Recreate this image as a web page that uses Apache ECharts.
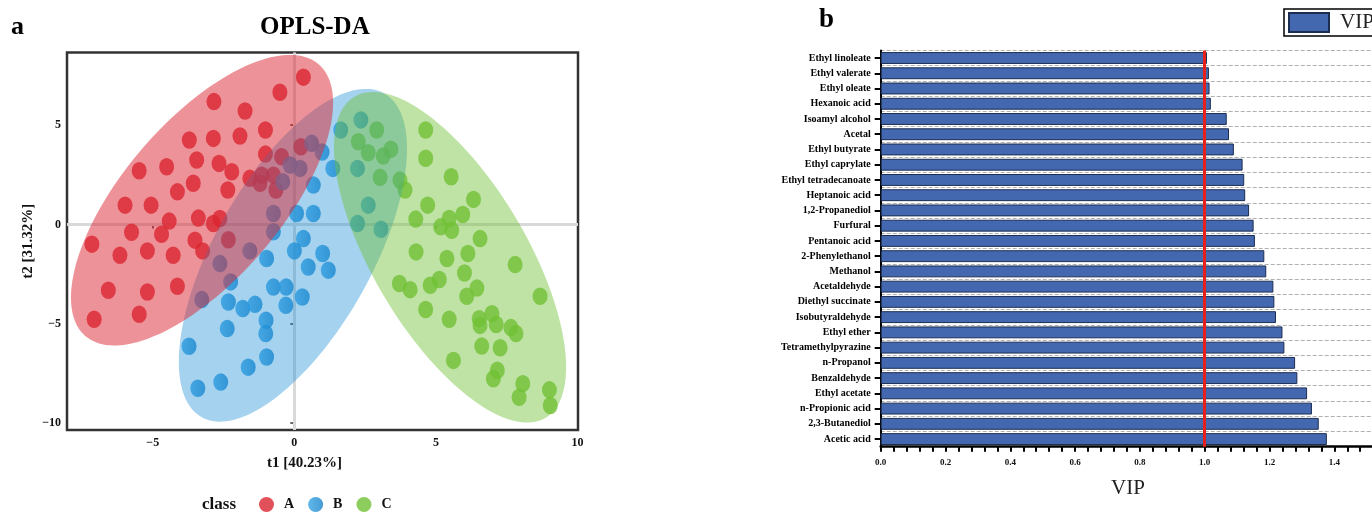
<!DOCTYPE html>
<html><head><meta charset="utf-8">
<script src="https://cdn.jsdelivr.net/npm/echarts@6/dist/echarts.min.js"></script>
<style>html,body{margin:0;padding:0;background:#fff;overflow:hidden}#wrap{width:1372px;height:513px;overflow:hidden;position:relative}#c{width:1400px;height:513px}</style>
</head><body><div id="wrap"><div id="c"></div></div>
<script>
// ---------- Panel a: OPLS-DA score plot ----------
const classA_t1 = [0.32,-0.51,-2.84,-1.74,-1.02,-3.71,-2.86,-1.92,-3.45,-4.51,-5.48,-2.66,-2.21,-1.02,0.23,-0.45,-3.57,-4.13,-2.35,-1.57,-1.15,-0.74,-1.21,-0.65,-5.98,-5.06,-4.42,-3.39,-2.86,-2.63,-5.75,-4.69,-7.15,-3.51,-2.33,-6.16,-5.19,-4.28,-3.24,-6.57,-5.19,-4.13,-7.07,-5.48];
const classA_t2 = [7.41,6.65,6.18,5.71,4.75,4.25,4.33,4.45,3.24,2.90,2.70,3.07,2.65,3.54,3.91,3.41,2.07,1.64,1.73,2.32,2.48,2.48,2.07,1.73,0.97,0.97,0.17,0.32,0.05,0.30,-0.39,-0.49,-0.99,-0.79,-0.77,-1.55,-1.33,-1.55,-1.33,-3.31,-3.40,-3.11,-4.77,-4.52];
const classB_t1 = [-0.15,0.20,0.61,-0.41,-0.74,-0.74,-1.57,-2.63,-2.25,-3.27,0.67,0.08,0.67,0.32,-0.98,0.00,0.49,-0.74,-0.29,-0.30,0.28,-2.33,-1.82,-1.39,-1.00,-1.01,-2.37,-3.72,-0.98,-1.63,-2.60,-3.41,0.98,1.64,1.36,1.00,1.20,2.35,2.23,2.61,2.23,3.06];
const classB_t2 = [2.99,2.82,4.08,2.15,0.55,-0.37,-1.33,-1.97,-2.89,-3.78,1.98,0.55,0.55,-0.71,-1.71,-1.33,-2.14,-3.15,-3.15,-4.07,-3.65,-3.90,-4.23,-4.02,-4.82,-5.49,-5.24,-6.13,-6.67,-7.18,-7.93,-8.24,3.64,4.75,2.82,-1.46,-2.30,5.26,2.82,0.97,0.05,-0.24];
const classC_t1 = [2.91,2.26,2.61,3.14,3.41,3.03,3.73,3.91,4.64,4.64,5.54,6.33,4.71,5.95,4.29,5.17,5.47,5.56,6.56,4.30,5.39,6.13,7.80,6.01,3.71,4.09,4.80,5.12,6.45,6.09,8.68,4.64,5.47,6.53,6.98,6.56,7.13,7.65,7.83,6.62,7.27,5.62,7.17,7.03,8.07,7.94,9.01,9.04];
const classC_t2 = [4.75,4.16,3.61,3.44,3.78,2.37,2.23,1.73,4.75,3.33,2.40,1.26,0.97,0.50,0.27,-0.12,0.30,-0.29,-0.71,-1.38,-1.71,-1.46,-2.02,-2.44,-2.97,-3.28,-3.06,-2.77,-3.20,-3.61,-3.61,-4.28,-4.77,-4.74,-4.49,-5.08,-5.03,-5.19,-5.49,-6.12,-6.20,-6.84,-7.34,-7.76,-8.01,-8.69,-8.32,-9.11];
const classNames = ['A','B','C'];
const t1Ticks = [-5,0,5,10];
const t2Ticks = [-10,-5,0,5];

// confidence ellipses, drawn in order B, A, C (centre t1, centre t2, half-extent t1, half-extent t2, correlation)
const ellipseClass = ['B','A','C'];
const ellipseCenterT1 = [-0.05,-3.26,5.50];
const ellipseCenterT2 = [-1.55,1.22,-1.65];
const ellipseHalfT1 = [4.03,4.63,4.10];
const ellipseHalfT2 = [8.37,7.31,8.32];
const ellipseCorr = [0.64,0.67,-0.665];

// ---------- Panel b: VIP ----------
const vipCompounds = ['Ethyl linoleate','Ethyl valerate','Ethyl oleate','Hexanoic acid','Isoamyl alcohol','Acetal','Ethyl butyrate','Ethyl caprylate','Ethyl tetradecanoate','Heptanoic acid','1,2-Propanediol','Furfural','Pentanoic acid','2-Phenylethanol','Methanol','Acetaldehyde','Diethyl succinate','Isobutyraldehyde','Ethyl ether','Tetramethylpyrazine','n-Propanol','Benzaldehyde','Ethyl acetate','n-Propionic acid','2,3-Butanediol','Acetic acid'];
const vipValues = [1.007,1.013,1.015,1.019,1.068,1.075,1.090,1.117,1.122,1.125,1.137,1.151,1.155,1.184,1.190,1.212,1.215,1.220,1.240,1.246,1.279,1.286,1.316,1.331,1.352,1.377];
const vipThreshold = 1.0;

const SERIF = "'Liberation Serif','Times New Roman',serif";
const colA = '#db2531';
const colB = {type:'linear',x:0,y:0,x2:1,y2:0,colorStops:[{offset:0,color:'#38a6e6'},{offset:1,color:'#1682c9'}]};
const colC = '#70c036';
const ellipseFill = {A:'rgba(220,37,49,0.5)', B:'rgba(28,143,214,0.4)', C:'rgba(112,192,54,0.45)'};
const ptSymbol = 'path://M0 1A1 1 0 1 0 2 1A1 1 0 1 0 0 1Z';
const minus = v => (v < 0 ? '\u2212' + (-v) : String(v));

function pts(xs, ys){ return xs.map((x,i)=>[x, ys[i]]); }
const ellipseData = ellipseClass.map((c,i)=>[ellipseCenterT1[i], ellipseCenterT2[i], ellipseHalfT1[i], ellipseHalfT2[i], ellipseCorr[i]]);

function renderEllipse(params, api){
  const cx = api.value(0), cy = api.value(1), sx = api.value(2), sy = api.value(3), r = api.value(4);
  const k = Math.sqrt(1 - r*r);
  const poly = [];
  const N = 160;
  for (let i = 0; i < N; i++) {
    const t = i / N * Math.PI * 2;
    poly.push(api.coord([cx + sx*Math.cos(t), cy + sy*(r*Math.cos(t) + k*Math.sin(t))]));
  }
  return {type:'polygon', shape:{points:poly}, style:{fill: ellipseFill[ellipseClass[params.dataIndex]], stroke:null}};
}

const chart = echarts.init(document.getElementById('c'), null, {renderer:'canvas'});
const scatterCommon = {type:'scatter', xAxisIndex:0, yAxisIndex:0, symbol: ptSymbol, symbolSize:[15,17.5], z:2, emphasis:{disabled:true}};
chart.setOption({
  animation:false,
  backgroundColor:'#fff',
  title:[
    {text:'a', left:11, top:14, padding:0, textStyle:{fontFamily:SERIF, fontWeight:'bold', fontSize:26, color:'#000'}},
    {text:'OPLS-DA', left:260, top:15, padding:0, textStyle:{fontFamily:SERIF, fontWeight:'bold', fontSize:25, color:'#000'}},
    {text:'b', left:819, top:7, padding:0, textStyle:{fontFamily:SERIF, fontWeight:'bold', fontSize:27, color:'#000'}},
    {text:'class', left:202, top:496, padding:0, textStyle:{fontFamily:SERIF, fontWeight:'bold', fontSize:17, color:'#111'}}
  ],
  legend:[
    {data:classNames, left:259, top:497, padding:0, orient:'horizontal', icon:ptSymbol, itemWidth:15, itemHeight:17, itemGap:14,
     selectedMode:false,
     textStyle:{fontFamily:SERIF, fontWeight:'bold', fontSize:14, color:'#111', padding:[0,0,0,5]}},
    {data:['VIP'], left:1284, top:9, padding:[3,40,3,4], borderColor:'#000', borderWidth:1.5, icon:'rect', itemWidth:40, itemHeight:19,
     selectedMode:false,
     textStyle:{fontFamily:SERIF, fontSize:21, color:'#222', padding:[0,0,0,6]}}
  ],
  grid:[
    {left:67, top:52.5, width:511, height:377.5, show:true, borderColor:'#333', borderWidth:2.5, backgroundColor:'rgba(0,0,0,0)', outerBoundsMode:'none', containLabel:false},
    {left:880.7, top:50.4, bottom:66.3, width:518.4, outerBoundsMode:'none', containLabel:false}
  ],
  xAxis:[
    {type:'value', gridIndex:0, min:-8.03, max:10.02, axisLine:{show:false}, splitLine:{show:false},
     axisTick:{show:true, customValues:t1Ticks, length:4, lineStyle:{color:'#333', width:1.5}},
     axisLabel:{customValues:t1Ticks, formatter:minus, fontFamily:SERIF, fontWeight:'bold', fontSize:12, color:'#111', margin:7},
     name:'t1 [40.23%]', nameLocation:'middle', nameGap:26,
     nameTextStyle:{fontFamily:SERIF, fontWeight:'bold', fontSize:15, color:'#111', padding:[0,36,0,0]}},
    {type:'value', gridIndex:1, min:0, max:1.6, interval:0.2,
     axisLine:{show:true, lineStyle:{color:'#000', width:2.5}},
     axisTick:{show:true, length:5, lineStyle:{color:'#000', width:2}},
     minorTick:{show:true, splitNumber:5, length:5, lineStyle:{color:'#000', width:2}},
     splitLine:{show:false},
     axisLabel:{formatter:v=>v.toFixed(1), fontFamily:SERIF, fontWeight:'bold', fontSize:9, color:'#111', margin:11},
     name:'VIP', nameLocation:'middle', nameGap:31,
     nameTextStyle:{fontFamily:SERIF, fontSize:21, color:'#222', padding:[0,24,0,0]}}
  ],
  yAxis:[
    {type:'value', gridIndex:0, min:-10.34, max:8.65, axisLine:{show:false}, splitLine:{show:false},
     axisTick:{show:true, customValues:t2Ticks, length:4, lineStyle:{color:'#333', width:1.5}},
     axisLabel:{customValues:t2Ticks, formatter:minus, fontFamily:SERIF, fontWeight:'bold', fontSize:12, color:'#111', margin:6},
     name:'t2 [31.32%]', nameLocation:'middle', nameGap:31,
     nameTextStyle:{fontFamily:SERIF, fontWeight:'bold', fontSize:15, color:'#111'}},
    {type:'category', gridIndex:1, data:vipCompounds, inverse:true,
     axisLine:{show:true, lineStyle:{color:'#000', width:2}},
     axisTick:{show:true, alignWithLabel:true, length:6, lineStyle:{color:'#000', width:2}},
     axisLabel:{fontFamily:SERIF, fontWeight:'bold', fontSize:10, color:'#000', margin:10},
     splitLine:{show:true, lineStyle:{type:'dashed', color:'#b0b0b0', width:1}}}
  ],
  series:[
    {type:'scatter', xAxisIndex:0, yAxisIndex:0, data:[], z:1, silent:true,
     markLine:{z:1, silent:true, symbol:['none','none'], label:{show:false}, emphasis:{disabled:true},
       lineStyle:{color:'#d9d9d9', width:3, type:'solid'}, data:[{xAxis:0},{yAxis:0}]}},
    Object.assign({}, scatterCommon, {name:'A', data:pts(classA_t1, classA_t2), itemStyle:{color:colA}}),
    Object.assign({}, scatterCommon, {name:'B', data:pts(classB_t1, classB_t2), itemStyle:{color:colB}}),
    Object.assign({}, scatterCommon, {name:'C', data:pts(classC_t1, classC_t2), itemStyle:{color:colC}}),
    {type:'custom', xAxisIndex:0, yAxisIndex:0, z:3, silent:true, clip:true,
     renderItem:renderEllipse, encode:{x:0, y:1}, data:ellipseData},
    {type:'bar', name:'VIP', xAxisIndex:1, yAxisIndex:1, data:vipValues, barCategoryGap:'22%', z:2,
     itemStyle:{color:'#4468b0', borderColor:'#1c2d52', borderWidth:1},
     emphasis:{disabled:true},
     markLine:{silent:true, symbol:['none','none'], label:{show:false}, emphasis:{disabled:true},
       lineStyle:{color:'#e8201c', width:3, type:'solid'}, data:[{xAxis:vipThreshold}]}}
  ]
});
</script>
</body></html>
